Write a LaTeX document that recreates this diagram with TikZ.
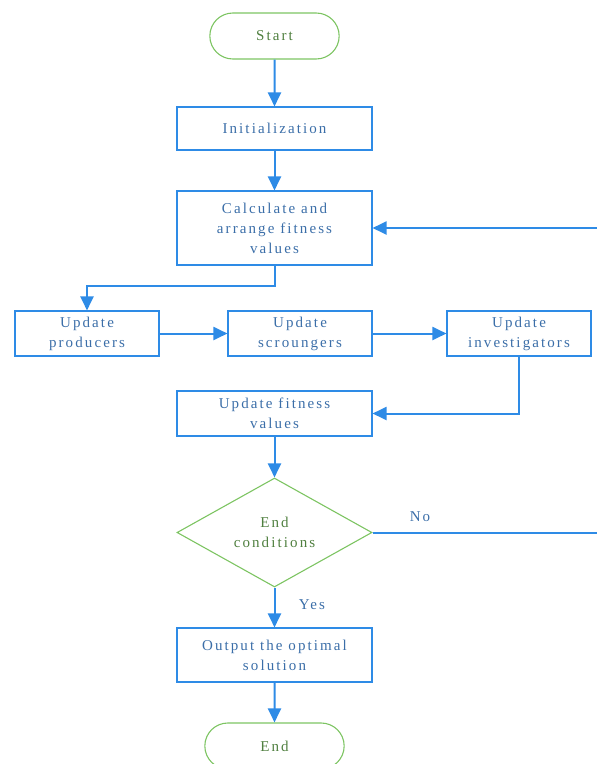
\documentclass[tikz,border=0pt]{standalone}
\usepackage{fontspec}
\setmainfont{Liberation Serif}[LetterSpace=14]
\usetikzlibrary{arrows.meta,shapes.geometric,shapes.misc}
\definecolor{lineblue}{HTML}{2E8BE6}
\definecolor{textblue}{HTML}{3B6EA8}
\definecolor{termgreen}{HTML}{7DC462}
\definecolor{textgreen}{HTML}{4F7F3F}
\tikzset{
  procbox/.style={draw=lineblue, line width=1.1pt, text=textblue, minimum width=195pt, align=center, font=\fontsize{15}{20}\selectfont, inner sep=0pt},
  smallbox/.style={procbox, minimum width=144pt, minimum height=45pt},
  term/.style={draw=termgreen, line width=1.1pt, rounded rectangle, text=textgreen, minimum height=46pt, font=\fontsize{15}{20}\selectfont},
  decide/.style={draw=termgreen, line width=1.1pt, diamond, aspect=1.79, text=textgreen, minimum width=195pt, minimum height=109pt, inner sep=0pt, align=center, font=\fontsize{15}{20}\selectfont},
  flow/.style={draw=lineblue, line width=2pt, -{Triangle[length=14pt,width=13pt]}},
  plain/.style={draw=lineblue, line width=2pt},
  lbl/.style={text=textblue, font=\fontsize{15}{16}\selectfont}
}
\begin{document}
\begin{tikzpicture}[x=1pt,y=-1pt]
\useasboundingbox (0,0) rectangle (597,764);
\node[term, minimum width=136pt] (start) at (274.5,36) {Start};
\node[procbox, minimum height=43pt] (init) at (274.5,128.5) {Initialization};
\node[procbox, minimum height=74pt] (calc) at (274.5,228) {Calculate and\\arrange fitness\\values};
\node[smallbox] (prod) at (87,333.5) {Update\\producers};
\node[smallbox] (scr) at (300,333.5) {Update\\scroungers};
\node[smallbox] (inv) at (519,333.5) {Update\\investigators};
\node[procbox, minimum height=45pt] (upd) at (274.5,413.5) {Update fitness\\values};
\node[decide] (cond) at (274.5,532.5) {End\\conditions};
\node[procbox, minimum height=54pt] (out) at (274.5,655) {Output the optimal\\solution};
\node[term, minimum width=146pt] (end) at (274.5,746) {End};
\coordinate (noend) at (597,532.5);
\coordinate (back) at (597,228);
\node[lbl] (nolbl) at (420,517) {No};
\node[lbl] (yeslbl) at (312,605) {Yes};
\draw[flow] (start) -- (init);
\draw[flow] (init) -- (calc);
\draw[flow] (calc.south) -- ++(0,20) -| (prod.north);
\draw[flow] (prod) -- (scr);
\draw[flow] (scr) -- (inv);
\draw[flow] (inv.south) |- (upd.east);
\draw[flow] (upd) -- (cond);
\draw[flow] (cond) -- (out);
\draw[flow] (out) -- (end);
\draw[plain] (cond.east) -- (noend);
\draw[flow] (back) -- (calc.east);
\end{tikzpicture}
\end{document}
